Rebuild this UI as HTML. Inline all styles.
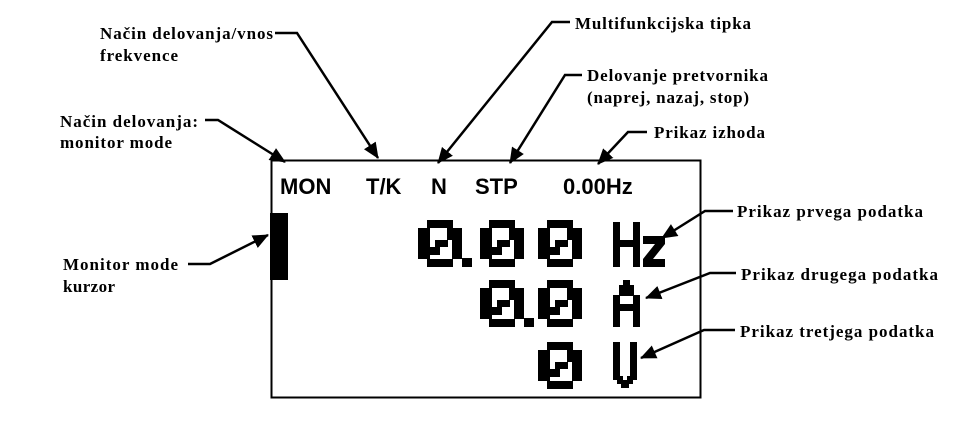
<!DOCTYPE html>
<html><head><meta charset="utf-8"><style>
html,body{margin:0;padding:0;background:#fff;width:973px;height:424px;overflow:hidden}
svg{display:block}
.l{font-family:"Liberation Serif",serif;font-weight:bold;font-size:17px;fill:#000}
.d{font-family:"Liberation Sans",sans-serif;font-weight:bold;font-size:22px;fill:#000}
</style></head><body>
<svg width="973" height="424" viewBox="0 0 973 424" xmlns="http://www.w3.org/2000/svg">
<defs>
<marker id="b" markerWidth="16" markerHeight="14" refX="15" refY="7" orient="auto" markerUnits="userSpaceOnUse">
<path d="M0,0 L16,7 L0,14 z" fill="#000"/></marker>
<g id="z" fill="#000">
<rect x="9" y="0" width="26" height="8"/>
<rect x="9" y="39" width="26" height="8"/>
<rect x="0" y="8" width="12" height="31"/>
<rect x="34" y="8" width="10" height="31"/>
<rect x="29" y="8" width="5" height="12"/>
<rect x="17" y="20" width="13" height="7"/>
<rect x="12" y="27" width="10" height="8"/>
</g>
</defs>
<rect x="271.5" y="160.5" width="429" height="237" fill="none" stroke="#000" stroke-width="2"/>
<text class="d" x="280" y="194">MON</text>
<text class="d" x="366" y="194">T/K</text>
<text class="d" x="431" y="194">N</text>
<text class="d" x="475" y="194">STP</text>
<text class="d" x="563" y="194">0.00Hz</text>
<rect x="270" y="213" width="18" height="67" fill="#000"/>
<use href="#z" x="418" y="220"/>
<rect x="462" y="258" width="10" height="9"/>
<use href="#z" x="480" y="220"/>
<use href="#z" x="538" y="220"/>
<path d="M613,222 h7 v18 h13 v-18 h7 v45 h-7 v-20 h-13 v20 h-7 z"/>
<path d="M643,236 h22 v8 l-12,15 h12 v8 h-22 v-8 l12,-15 h-12 z"/>
<use href="#z" x="480" y="280"/>
<rect x="524" y="318" width="10" height="9"/>
<use href="#z" x="538" y="280"/>
<path d="M623,280 h7 v5 h4 v10 h6 v32 h-7 v-16 h-13 v16 h-7 v-32 h6 v-10 h4 z M620,296 v8 h13 v-8 z" fill-rule="evenodd"/>
<use href="#z" x="538" y="342"/>
<path d="M613,342 h7 v34 h3 v4 h4 v-4 h3 v-34 h7 v38 h-4 v4 h-4 v4 h-8 v-4 h-4 v-4 h-4 z"/>
<g stroke="#000" stroke-width="2.5" fill="none">
<polyline points="275,33 297,33 378,158" marker-end="url(#b)"/>
<polyline points="205,120 218,120 285,162" marker-end="url(#b)"/>
<polyline points="570,22 552,22 438,163" marker-end="url(#b)"/>
<polyline points="582,75 565,75 510,163" marker-end="url(#b)"/>
<polyline points="647,132 628,132 598,164" marker-end="url(#b)"/>
<polyline points="733,211 705,211 662,238" marker-end="url(#b)"/>
<polyline points="736,273 710,273 646,298" marker-end="url(#b)"/>
<polyline points="735,330 704,330 641,358" marker-end="url(#b)"/>
<polyline points="188,264 210,264 268,235" marker-end="url(#b)"/>
</g>
<g>
<text class="l" x="100" y="39" textLength="173" lengthAdjust="spacing">Način delovanja/vnos</text>
<text class="l" x="100" y="61" textLength="78" lengthAdjust="spacing">frekvence</text>
<text class="l" x="60" y="127" textLength="138" lengthAdjust="spacing">Način delovanja:</text>
<text class="l" x="60" y="148" textLength="112" lengthAdjust="spacing">monitor mode</text>
<text class="l" x="575" y="29" textLength="176" lengthAdjust="spacing">Multifunkcijska tipka</text>
<text class="l" x="587" y="81" textLength="181" lengthAdjust="spacing">Delovanje pretvornika</text>
<text class="l" x="587" y="103" textLength="162" lengthAdjust="spacing">(naprej, nazaj, stop)</text>
<text class="l" x="654" y="138" textLength="111" lengthAdjust="spacing">Prikaz izhoda</text>
<text class="l" x="737" y="217" textLength="186" lengthAdjust="spacing">Prikaz prvega podatka</text>
<text class="l" x="741" y="280" textLength="197" lengthAdjust="spacing">Prikaz drugega podatka</text>
<text class="l" x="740" y="337" textLength="194" lengthAdjust="spacing">Prikaz tretjega podatka</text>
<text class="l" x="63" y="270" textLength="115" lengthAdjust="spacing">Monitor mode</text>
<text class="l" x="63" y="292" textLength="52" lengthAdjust="spacing">kurzor</text>
</g>
</svg>
</body></html>
